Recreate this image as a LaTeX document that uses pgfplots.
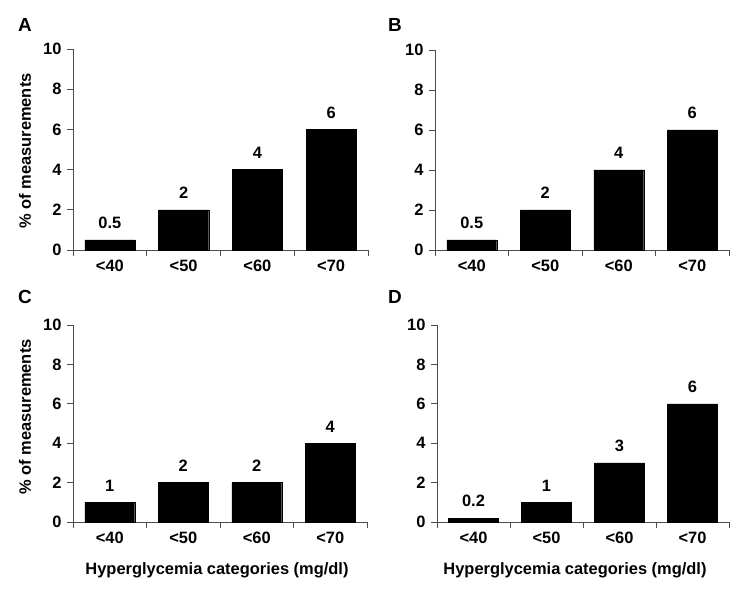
\documentclass[border=0pt]{standalone}
\usepackage{fontspec}
\setmainfont{Liberation Sans}
\usepackage{pgfplots}
\pgfplotsset{compat=1.18}

\newcommand{\lab}{\bfseries\fontsize{16.5}{19}\selectfont}

\pgfplotsset{
  panel/.style={
    scale only axis, anchor=south west,
    xmin=0, xmax=4, ymin=0, ymax=10,
    ytick={0,2,...,10},
    xtick={0.5,1.5,2.5,3.5},
    xticklabels={<40,<50,<60,<70},
    minor xtick={0,1,2,3,4},
    axis x line*=bottom, axis y line*=left,
    axis line style={black!70, line width=0.8pt},
    every tick/.style={black!70, line width=0.8pt},
    major x tick style={opacity=0},
    major tick length=6bp, minor tick length=6bp,
    tick align=outside,
    tick label style={font=\lab, text=black},
    yticklabel style={xshift=-2bp},
    xticklabel style={yshift=-1bp},
    /pgf/number format/assume math mode=true,
    ybar, bar width=0.68,
    nodes near coords, point meta=explicit symbolic,
    every node near coord/.append style={font=\lab, text=black, yshift=7.5bp},
    clip=false,
  },
}

\begin{document}
\begin{tikzpicture}
\useasboundingbox (0,0) rectangle (748bp,595bp);

% A
\begin{axis}[panel, at={(73bp,345bp)}, width=295bp, height=201bp]
\addplot[fill=black, draw=black] coordinates {(0.5,0.5)[0.5] (1.5,2)[2] (2.5,4)[4] (3.5,6)[6]};
\end{axis}

% B
\begin{axis}[panel, at={(435bp,345bp)}, width=294bp, height=200bp]
\addplot[fill=black, draw=black] coordinates {(0.5,0.5)[0.5] (1.5,2)[2] (2.5,4)[4] (3.5,6)[6]};
\end{axis}

% C
\begin{axis}[panel, at={(73bp,73bp)}, width=294bp, height=197bp]
\addplot[fill=black, draw=black] coordinates {(0.5,1)[1] (1.5,2)[2] (2.5,2)[2] (3.5,4)[4]};
\end{axis}

% D
\begin{axis}[panel, at={(437bp,73bp)}, width=292bp, height=197bp]
\addplot[fill=black, draw=black] coordinates {(0.5,0.2)[0.2] (1.5,1)[1] (2.5,3)[3] (3.5,6)[6]};
\end{axis}

\node[font=\bfseries\fontsize{19}{22}\selectfont] at (25bp,570bp) {A};
\node[font=\bfseries\fontsize{19}{22}\selectfont] at (395bp,570bp) {B};
\node[font=\bfseries\fontsize{19}{22}\selectfont] at (25bp,298bp) {C};
\node[font=\bfseries\fontsize{19}{22}\selectfont] at (395bp,298bp) {D};

\node[font=\lab, rotate=90] at (25bp,444bp) {\% of measurements};
\node[font=\lab, rotate=90] at (25bp,178bp) {\% of measurements};

\node[font=\lab] at (217bp,25bp) {Hyperglycemia categories (mg/dl)};
\node[font=\lab] at (575bp,25bp) {Hyperglycemia categories (mg/dl)};
\end{tikzpicture}
\end{document}
